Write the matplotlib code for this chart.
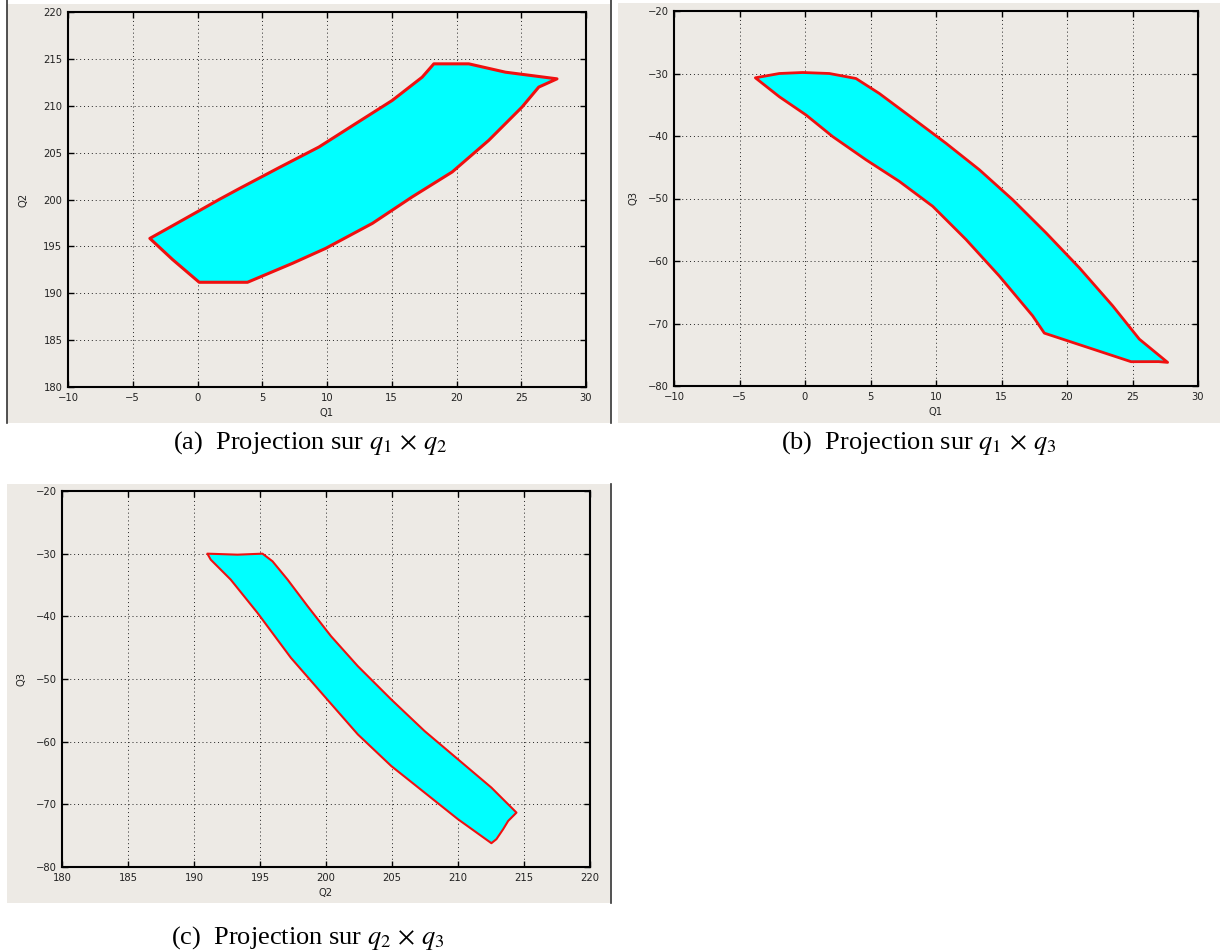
import matplotlib
matplotlib.use("Agg")
import matplotlib.pyplot as plt
from matplotlib.patches import Rectangle
from matplotlib.lines import Line2D
import numpy as np

# ---- projection outlines (closed polygons) ----
# (a) q1 x q2
a_q1 = [-3.68, -1.93, 0.13, 1.67, 3.21, 6.30, 9.38, 12.21, 15.04, 17.35, 18.25,
        20.95, 23.78, 27.76, 26.35, 25.06, 22.49, 19.67, 16.58, 13.50,
        9.90, 7.33, 3.86, 0.13, -1.93]
a_q2 = [195.85, 197.20, 198.80, 200.00, 201.15, 203.40, 205.60, 208.09, 210.57,
        213.05, 214.47, 214.47, 213.58, 212.87, 211.99, 209.86, 206.31,
        202.94, 200.28, 197.45, 194.79, 193.19, 191.17, 191.17, 193.60]

# (b) q1 x q3
b_q1 = [-3.79, -1.96, -0.18, 1.86, 3.89, 5.67, 8.22, 10.76, 13.31, 15.85,
        18.40, 20.94, 23.49, 25.52, 27.68, 27.0, 24.89, 18.27, 17.38, 14.83,
        12.29, 9.75, 7.20, 4.66, 2.11, 0.08, -1.96]
b_q3 = [-30.69, -30.00, -29.84, -30.00, -30.80, -33.19, -37.17, -41.16,
        -45.40, -50.19, -55.50, -61.08, -67.18, -72.50, -76.22, -76.10,
        -76.11, -71.54, -68.78, -62.40, -56.56, -51.25, -47.26, -43.81,
        -40.09, -36.64, -33.72]

# (c) q2 x q3
c_q2 = [191.01, 193.29, 195.19, 195.95, 197.09, 198.61, 200.38, 202.41,
        204.94, 207.47, 210.00, 212.53, 214.43, 213.80, 213.42, 212.91,
        212.53, 210.00, 207.47, 204.94, 202.41, 199.87, 197.34, 194.81,
        192.78, 191.27]
c_q3 = [-30.00, -30.16, -30.00, -31.22, -34.14, -38.39, -43.17, -47.95,
        -53.26, -58.31, -62.82, -67.33, -71.32, -72.65, -73.97, -75.56,
        -76.20, -72.38, -68.13, -63.88, -58.84, -52.73, -46.62, -39.45,
        -34.14, -30.96]

# axis settings
a_xlim, a_ylim = (-10, 30), (180, 220)
b_xlim, b_ylim = (-10, 30), (-80, -20)
c_xlim, c_ylim = (180, 220), (-80, -20)
a_xticks, a_yticks = np.arange(-10, 31, 5), np.arange(180, 221, 5)
b_xticks, b_yticks = np.arange(-10, 31, 5), np.arange(-80, -19, 10)
c_xticks, c_yticks = np.arange(180, 221, 5), np.arange(-80, -19, 10)

captions = [r"(a)  Projection sur $q_1\,\times\,q_2$",
            r"(b)  Projection sur $q_1\,\times\,q_3$",
            r"(c)  Projection sur $q_2\,\times\,q_3$"]

W, H = 1220, 951
plt.rcParams["mathtext.fontset"] = "stix"
fig = plt.figure(figsize=(W / 100, H / 100), dpi=100)
fig.patch.set_facecolor("white")

PANEL = "#EDEAE5"


def px_rect(x0, y0, x1, y1):
    """Figure-fraction rectangle from pixel corners (top-left origin)."""
    return [x0 / W, 1 - y1 / H, (x1 - x0) / W, (y1 - y0) / H]


# grey window backgrounds
for (x0, y0, x1, y1) in [(7, 4, 610, 423), (618, 3, 1220, 423), (7, 484, 610, 903)]:
    l, b, w, h = px_rect(x0, y0, x1, y1)
    fig.patches.append(Rectangle((l, b), w, h, transform=fig.transFigure,
                                 facecolor=PANEL, edgecolor="none", zorder=-10))

# thin dark window edges
for (x, y0, y1) in [(6.5, 0, 423), (611, 0, 423), (611, 484, 903)]:
    fig.lines.append(Line2D([x / W, x / W], [1 - y0 / H, 1 - y1 / H],
                            transform=fig.transFigure, color="#333333", lw=1.2,
                            zorder=-5))


def make_axes(rect_px, xs, ys, xlim, ylim, xt, yt, xlabel, ylabel, lw, ylab_off):
    ax = fig.add_axes(px_rect(*rect_px))
    ax.set_facecolor(PANEL)
    ax.fill(xs, ys, facecolor="#00FFFF", edgecolor="#F01010", linewidth=lw,
            joinstyle="round", zorder=3)
    ax.set_xlim(*xlim)
    ax.set_ylim(*ylim)
    ax.set_xticks(xt)
    ax.set_yticks(yt)
    ax.grid(True, color="#222222", linestyle=(0, (1, 3)), linewidth=0.7)
    ax.set_axisbelow(True)
    ax.tick_params(direction="in", length=4, width=1.0, top=True, right=True,
                   labelsize=7.2, labelcolor="#222222", pad=4)
    for s in ax.spines.values():
        s.set_linewidth(1.5)
        s.set_color("black")
    ax.set_xlabel(xlabel, fontsize=7.2, color="#222222", labelpad=4)
    ax.set_ylabel(ylabel, fontsize=7.2, color="#222222")
    wpx = rect_px[2] - rect_px[0]
    ax.yaxis.set_label_coords(-ylab_off / wpx, 0.5)
    return ax


make_axes((68, 12, 586, 387), a_q1, a_q2, a_xlim, a_ylim, a_xticks, a_yticks,
          "Q1", "Q2", 2.2, 40)
make_axes((674, 11, 1198, 386), b_q1, b_q3, b_xlim, b_ylim, b_xticks, b_yticks,
          "Q1", "Q3", 2.0, 36)
make_axes((62, 491, 590, 867), c_q2, c_q3, c_xlim, c_ylim, c_xticks, c_yticks,
          "Q2", "Q3", 1.5, 35)

# sub-figure captions
for (cx, cy), txt in zip([(310, 443), (919, 443), (308, 938)], captions):
    fig.text(cx / W, 1 - cy / H, txt, ha="center", va="center",
             fontsize=19, family="Liberation Serif")

fig.savefig("out.png", dpi=100, facecolor="white")
